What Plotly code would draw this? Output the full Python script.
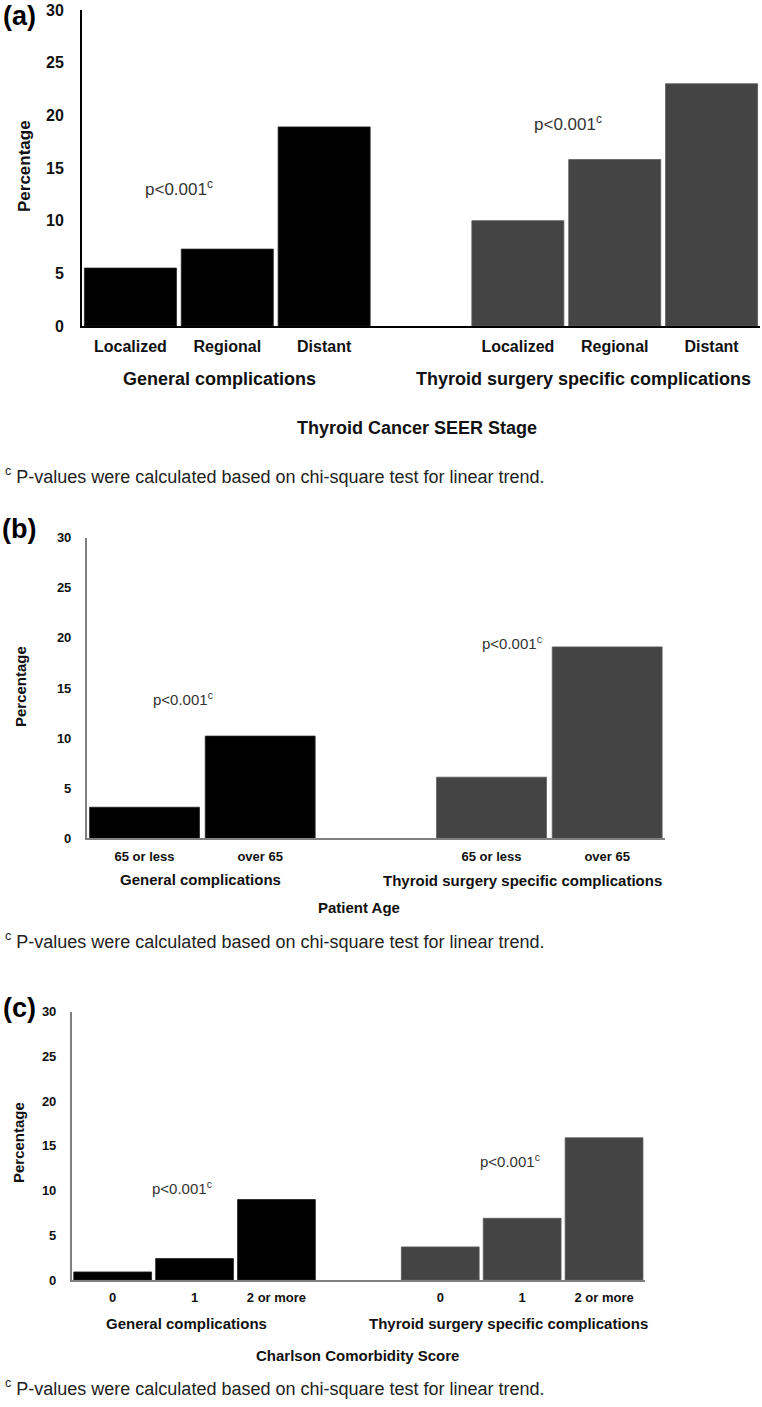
import plotly.graph_objects as go

W, H = 762, 1407

# ---------------- data ----------------
groups = ["General complications", "Thyroid surgery specific complications"]

a_categories = ["Localized", "Regional", "Distant"]
a_general = [5.5, 7.3, 18.9]
a_thyroid = [10.0, 15.8, 23.0]

b_categories = ["65 or less", "over 65"]
b_general = [3.1, 10.2]
b_thyroid = [6.1, 19.1]

c_categories = ["0", "1", "2 or more"]
c_general = [0.9, 2.4, 9.0]
c_thyroid = [3.7, 6.9, 15.9]

y_ticks = [0, 5, 10, 15, 20, 25, 30]
titles = ["Thyroid Cancer SEER Stage", "Patient Age", "Charlson Comorbidity Score"]
panel_letters = ["(a)", "(b)", "(c)"]
p_text = "p&lt;0.001<sup>c</sup>"
footnote = "<sup>c</sup> P-values were calculated based on chi-square test for linear trend."

FONT = "Arial, Liberation Sans, Helvetica, sans-serif"
LEFT_COLOR = "#000000"
RIGHT_COLOR = "#444444"


def px(x):
    return x / W


def py(y):
    return 1 - y / H


fig = go.Figure()
annotations = []

panels = [
    dict(cats=a_categories, gen=a_general, thy=a_thyroid, xd=(82, 760), y0=326, y30=10,
         tickfs=16, catfs=16, grpfs=18, titlefs=18, pfs=17, percfs=17, axcol="#000000", axw=2,
         pL=(179, 188), pR=(568, 123), letter=(19, 16), perc=(25, 166),
         gL=(219, 379), gR=(583, 379), title=(417, 428), foot=475, cat_stand=5, ytick_stand=13),
    dict(cats=b_categories, gen=b_general, thy=b_thyroid, xd=(86.7, 665), y0=838.3, y30=537.7,
         tickfs=13, catfs=13, grpfs=15, titlefs=15, pfs=15, percfs=15, axcol="#7f7f7f", axw=1.5,
         pL=(183, 698), pR=(512, 643), letter=(19, 529), perc=(20, 687),
         gL=(200, 879), gR=(522, 880), title=(359, 907), foot=940, cat_stand=5, ytick_stand=11),
    dict(cats=c_categories, gen=c_general, thy=c_thyroid, xd=(71.7, 645), y0=1280, y30=1011.7,
         tickfs=13, catfs=13, grpfs=15, titlefs=15, pfs=15, percfs=15, axcol="#7f7f7f", axw=1.5,
         pL=(182, 1187), pR=(510, 1160), letter=(19, 1008), perc=(18, 1143),
         gL=(186, 1323), gR=(508, 1323), title=(357, 1355), foot=1387, cat_stand=5, ytick_stand=11),
]

layout_axes = {}
for i, p in enumerate(panels):
    n = len(p["cats"])
    left_x = list(range(n))
    right_x = [n + 1 + k for k in range(n)]
    xa = "x" if i == 0 else f"x{i+1}"
    ya = "y" if i == 0 else f"y{i+1}"
    fig.add_trace(go.Bar(x=left_x, y=p["gen"], xaxis=xa, yaxis=ya,
                         marker=dict(color=LEFT_COLOR, line=dict(color="#222222", width=0.8)),
                         name=groups[0], showlegend=False, hoverinfo="y"))
    fig.add_trace(go.Bar(x=right_x, y=p["thy"], xaxis=xa, yaxis=ya,
                         marker=dict(color=RIGHT_COLOR, line=dict(color="#5a5a5a", width=0.8)),
                         name=groups[1], showlegend=False, hoverinfo="y"))
    xkey = "xaxis" if i == 0 else f"xaxis{i+1}"
    ykey = "yaxis" if i == 0 else f"yaxis{i+1}"
    layout_axes[xkey] = dict(
        domain=[px(p["xd"][0]), px(p["xd"][1])], anchor=ya, automargin=False,
        range=[-0.5, 2 * n + 0.5], showgrid=False, zeroline=False,
        showline=True, linecolor=p["axcol"], linewidth=p["axw"],
        tickvals=left_x + right_x, ticktext=p["cats"] + p["cats"],
        ticks="", ticklabelstandoff=p["cat_stand"],
        tickfont=dict(family=FONT, size=p["catfs"], color="#111111", weight="bold"),
        fixedrange=True,
    )
    layout_axes[ykey] = dict(
        domain=[py(p["y0"]), py(p["y30"])], anchor=xa, automargin=False,
        range=[0, 30], tickvals=y_ticks, showgrid=False, zeroline=False,
        showline=True, linecolor=p["axcol"], linewidth=p["axw"],
        ticks="", ticklabelstandoff=p["ytick_stand"],
        tickfont=dict(family=FONT, size=p["tickfs"], color="#111111", weight="bold"),
        fixedrange=True,
    )

    def ann(text, x, y, size, bold=False, color="#111111", xanchor="center", angle=0):
        annotations.append(dict(
            text=text, x=px(x), y=py(y), xref="paper", yref="paper",
            xanchor=xanchor, yanchor="middle", showarrow=False, textangle=angle,
            font=dict(family=FONT, size=size, color=color, weight="bold" if bold else "normal"),
        ))

    ann(panel_letters[i], p["letter"][0], p["letter"][1], 27, bold=True, color="#000000")
    ann("Percentage", p["perc"][0], p["perc"][1], p["percfs"], bold=True, angle=-90)
    ann(p_text, p["pL"][0], p["pL"][1], p["pfs"], color="#333333")
    ann(p_text, p["pR"][0], p["pR"][1], p["pfs"], color="#333333")
    ann(groups[0], p["gL"][0], p["gL"][1], p["grpfs"], bold=True)
    ann(groups[1], p["gR"][0], p["gR"][1], p["grpfs"], bold=True)
    ann(titles[i], p["title"][0], p["title"][1], p["titlefs"], bold=True)
    ann(footnote, 3, p["foot"], 18, color="#222222", xanchor="left")

fig.update_layout(
    width=W, height=H,
    margin=dict(l=0, r=0, t=0, b=0, autoexpand=False),
    paper_bgcolor="white", plot_bgcolor="white",
    bargap=0.05,
    font=dict(family=FONT),
    annotations=annotations,
    **layout_axes,
)

fig.write_html(
    "out.html",
    config={"displayModeBar": False},
    post_script="document.body.style.margin='0px';document.body.style.overflow='hidden';",
)
